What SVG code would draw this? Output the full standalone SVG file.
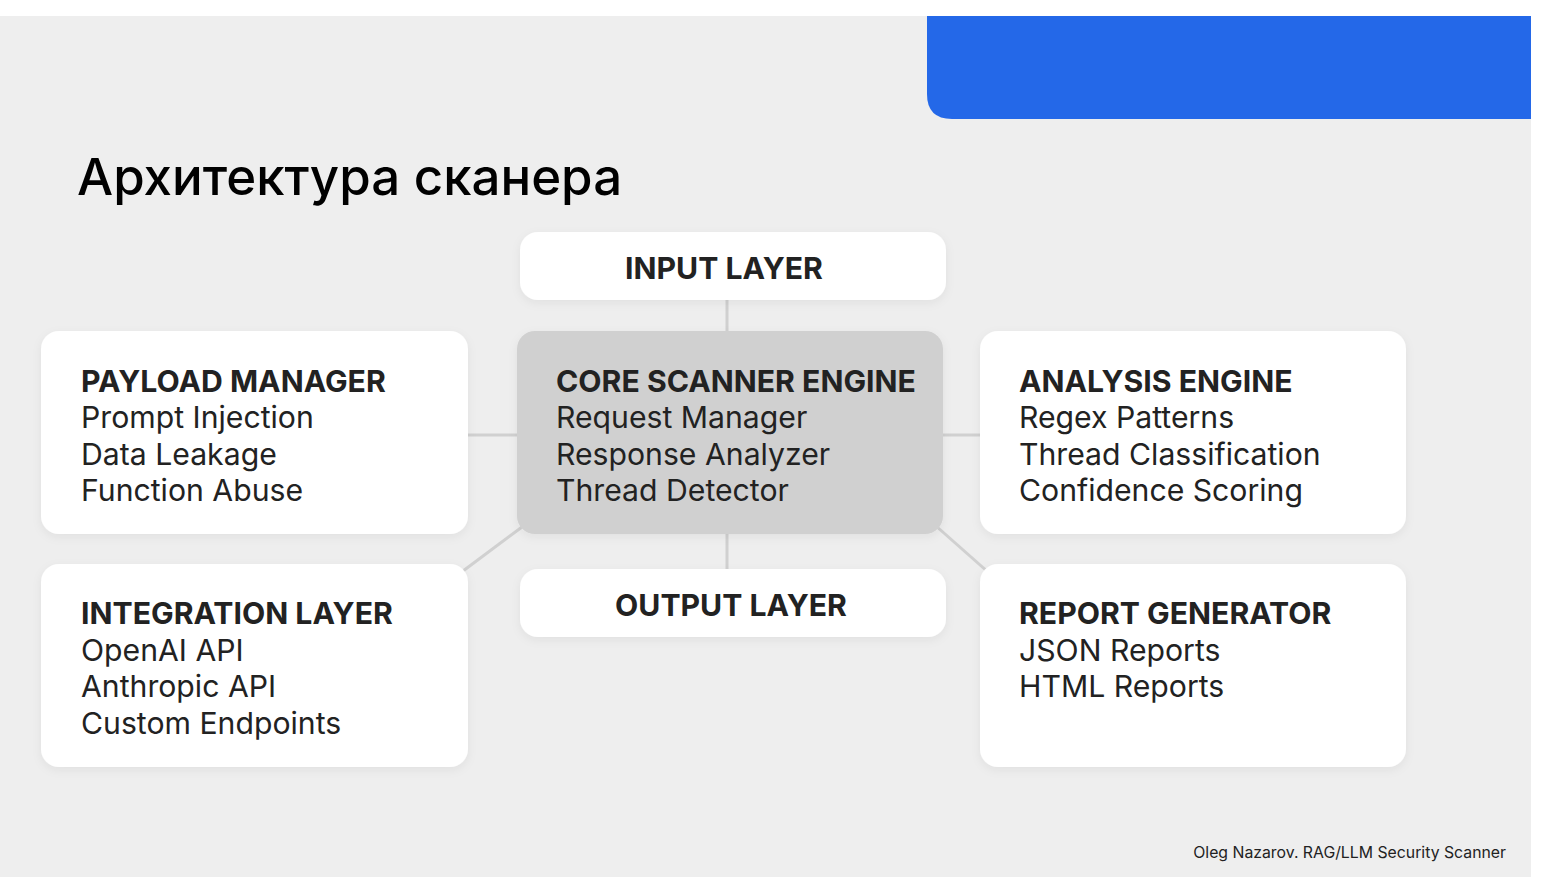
<svg xmlns="http://www.w3.org/2000/svg" width="1560" height="877" viewBox="0 0 1560 877">
<style>
.card{fill:#ffffff;filter:url(#sh)}
.core{fill:#d0d0d0;filter:url(#sh)}
.h{font-family:Inter,"Liberation Sans",sans-serif;font-weight:700;font-size:30.2px;fill:#222}
.t{font-family:Inter,"Liberation Sans",sans-serif;font-weight:400;font-size:30.2px;fill:#222}
.c{stroke:#d0d0d0;stroke-width:3;fill:none}
</style>
<defs>
<filter id="sh" x="-10%" y="-10%" width="120%" height="130%">
<feDropShadow dx="0" dy="3" stdDeviation="5" flood-color="#000" flood-opacity="0.06"/>
</filter>
</defs>
<rect x="0" y="0" width="1560" height="877" fill="#ffffff"/>
<rect x="0" y="16" width="1531" height="861" fill="#eeeeee"/>
<path d="M927 16 H1531 V119 H952 Q927 119 927 94 Z" fill="#2468e8"/>
<text x="77" y="195" font-family="Inter,'Liberation Sans',sans-serif" font-size="51" font-weight="500" fill="#000">Архитектура сканера</text>
<g id="connectors">
<line class="c" x1="727" y1="300" x2="727" y2="331"/>
<line class="c" x1="468" y1="435" x2="517" y2="435"/>
<line class="c" x1="943" y1="435" x2="980" y2="435"/>
<line class="c" x1="727" y1="534" x2="727" y2="569"/>
<line class="c" x1="522" y1="527" x2="463" y2="571"/>
<line class="c" x1="936" y1="526" x2="988" y2="572"/>
</g>
<g id="input">
<rect class="card" x="520" y="232" width="426" height="68" rx="18"/>
<text class="h" x="724" y="279" text-anchor="middle">INPUT LAYER</text>
</g>
<g id="payload">
<rect class="card" x="41" y="331" width="427" height="203" rx="18"/>
<text class="h" x="81" y="392">PAYLOAD MANAGER</text>
<text class="t" x="81" y="428">Prompt Injection</text>
<text class="t" x="81" y="465">Data Leakage</text>
<text class="t" x="81" y="501">Function Abuse</text>
</g>
<g id="core">
<rect class="core" x="517" y="331" width="426" height="203" rx="18"/>
<text class="h" x="556" y="392">CORE SCANNER ENGINE</text>
<text class="t" x="556" y="428">Request Manager</text>
<text class="t" x="556" y="465">Response Analyzer</text>
<text class="t" x="556" y="501">Thread Detector</text>
</g>
<g id="analysis">
<rect class="card" x="980" y="331" width="426" height="203" rx="18"/>
<text class="h" x="1019" y="392">ANALYSIS ENGINE</text>
<text class="t" x="1019" y="428">Regex Patterns</text>
<text class="t" x="1019" y="465">Thread Classification</text>
<text class="t" x="1019" y="501">Confidence Scoring</text>
</g>
<g id="integration">
<rect class="card" x="41" y="564" width="427" height="203" rx="18"/>
<text class="h" x="81" y="624">INTEGRATION LAYER</text>
<text class="t" x="81" y="661">OpenAI API</text>
<text class="t" x="81" y="697">Anthropic API</text>
<text class="t" x="81" y="734">Custom Endpoints</text>
</g>
<g id="output">
<rect class="card" x="520" y="569" width="426" height="68" rx="18"/>
<text class="h" x="731" y="616" text-anchor="middle">OUTPUT LAYER</text>
</g>
<g id="report">
<rect class="card" x="980" y="564" width="426" height="203" rx="18"/>
<text class="h" x="1019" y="624">REPORT GENERATOR</text>
<text class="t" x="1019" y="661">JSON Reports</text>
<text class="t" x="1019" y="697">HTML Reports</text>
</g>
<text x="1506" y="858" text-anchor="end" font-family="Inter,'Liberation Sans',sans-serif" font-size="15.8" fill="#222">Oleg Nazarov. RAG/LLM Security Scanner</text>
</svg>
